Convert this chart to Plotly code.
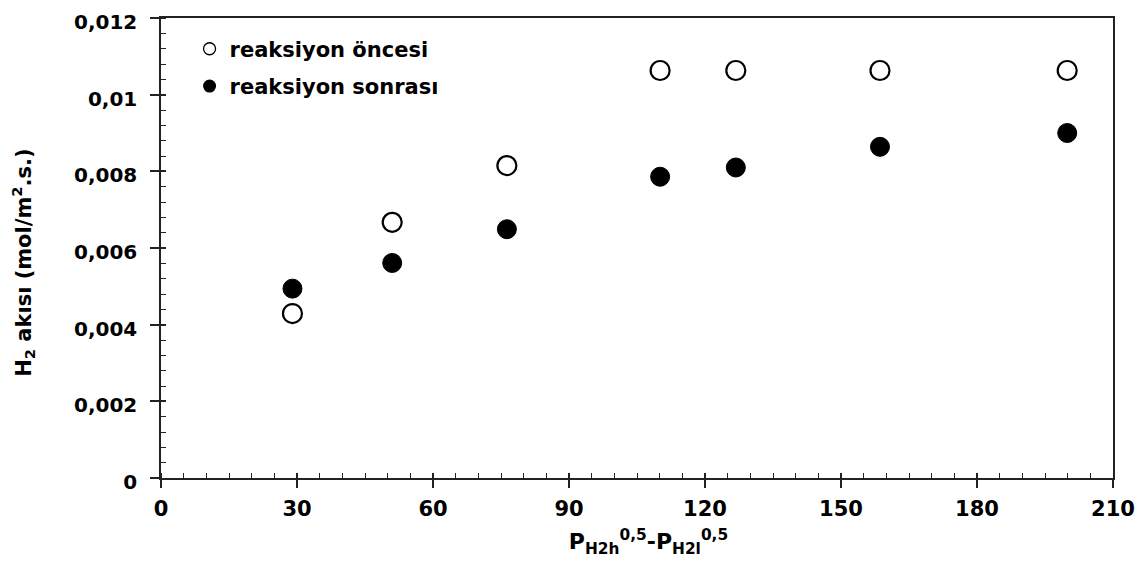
import plotly.graph_objects as go

# Data
x_vals = [29.0, 51.0, 76.3, 110.1, 126.8, 158.6, 199.9]
y_oncesi = [0.00429, 0.00667, 0.00815, 0.01063, 0.01063, 0.01063, 0.01063]
y_sonrasi = [0.00494, 0.00561, 0.00649, 0.00786, 0.00810, 0.00864, 0.00900]
series_names = ["reaksiyon öncesi", "reaksiyon sonrası"]

x_ticks = [0, 30, 60, 90, 120, 150, 180, 210]
x_ticktext = ["0", "30", "60", "90", "120", "150", "180", "210"]
y_ticks = [0, 0.002, 0.004, 0.006, 0.008, 0.010, 0.012]
y_ticktext = ["0", "0,002", "0,004", "0,006", "0,008", "0,01", "0,012"]

FONT = "DejaVu Sans, Liberation Sans, Arial, sans-serif"
AX = "#222222"

fig = go.Figure()
fig.add_trace(go.Scatter(x=x_vals, y=y_oncesi, mode="markers", showlegend=False,
                         marker=dict(symbol="circle", size=19, color="white",
                                     line=dict(color="black", width=2.2))))
fig.add_trace(go.Scatter(x=x_vals, y=y_sonrasi, mode="markers", showlegend=False,
                         marker=dict(symbol="circle", size=19, color="black",
                                     line=dict(color="black", width=1))))
# legend entries with smaller markers
fig.add_trace(go.Scatter(x=[None], y=[None], mode="markers", name=series_names[0],
                         legendgroup="a",
                         marker=dict(symbol="circle", size=12, color="white",
                                     line=dict(color="black", width=1.3))))
fig.add_trace(go.Scatter(x=[None], y=[None], mode="markers", name=series_names[1],
                         legendgroup="b",
                         marker=dict(symbol="circle", size=13, color="black")))

# overlay axes for the inside part of major ticks
fig.add_trace(go.Scatter(x=[None], y=[None], xaxis="x2", yaxis="y2", showlegend=False))

# page body has an 8px margin: compensate so the plot lands where the reference has it
fig.update_layout(
    width=1128, height=550,
    margin=dict(l=153, r=23, t=10, b=80),
    paper_bgcolor="white", plot_bgcolor="white",
    font=dict(family=FONT, color="black"),
    separators=",.",
    showlegend=True,
    legend=dict(x=0.030, y=0.977, xanchor="left", yanchor="top",
                bgcolor="rgba(0,0,0,0)", borderwidth=0,
                font=dict(family=FONT, size=21, color="black", weight="bold"),
                itemwidth=30, tracegroupgap=7, traceorder="grouped"),
    xaxis=dict(range=[0, 210], tickvals=x_ticks, ticktext=x_ticktext, automargin=False,
               showgrid=False, zeroline=False, showline=True, linecolor=AX, linewidth=1.5,
               mirror=True, ticks="outside", ticklen=8, tickwidth=1.5, tickcolor=AX,
               ticklabelstandoff=3, ticklabeloverflow="allow",
               tickfont=dict(family=FONT, size=21, color="black", weight="bold"),
               minor=dict(dtick=5, ticks="inside", ticklen=5, tickwidth=1.3, tickcolor=AX, showgrid=False),
               title=dict(text="&nbsp;&nbsp;&nbsp;P<sub>H2h</sub><sup>0,5</sup>-P<sub>H2l</sub><sup>0,5</sup>",
                          font=dict(family=FONT, size=22, color="black", weight="bold"),
                          standoff=27)),
    yaxis=dict(range=[0, 0.012], tickvals=y_ticks, ticktext=y_ticktext, automargin=False,
               showgrid=False, zeroline=False, showline=True, linecolor=AX, linewidth=1.5,
               mirror=True, ticks="outside", ticklen=9, tickwidth=1.5, tickcolor=AX,
               ticklabelstandoff=9, ticklabelshift=4, ticklabeloverflow="allow",
               tickfont=dict(family=FONT, size=20, color="black", weight="bold"),
               minor=dict(dtick=0.0004, ticks="inside", ticklen=5, tickwidth=1.3, tickcolor=AX, showgrid=False),
               title=dict(text="H<sub>2</sub> akısı (mol/m<sup>2</sup>.s.)&nbsp;&nbsp;&nbsp;&nbsp;",
                          font=dict(family=FONT, size=21, color="black", weight="bold"),
                          standoff=41)),
    xaxis2=dict(overlaying="x", matches="x", anchor="y2", tickvals=x_ticks, automargin=False,
                showticklabels=False, showgrid=False, zeroline=False, showline=False,
                ticks="inside", ticklen=5, tickwidth=1.5, tickcolor=AX),
    yaxis2=dict(overlaying="y", matches="y", anchor="x2", tickvals=y_ticks, automargin=False,
                showticklabels=False, showgrid=False, zeroline=False, showline=False,
                ticks="inside", ticklen=5, tickwidth=1.5, tickcolor=AX),
)

fig.write_html("out.html")
